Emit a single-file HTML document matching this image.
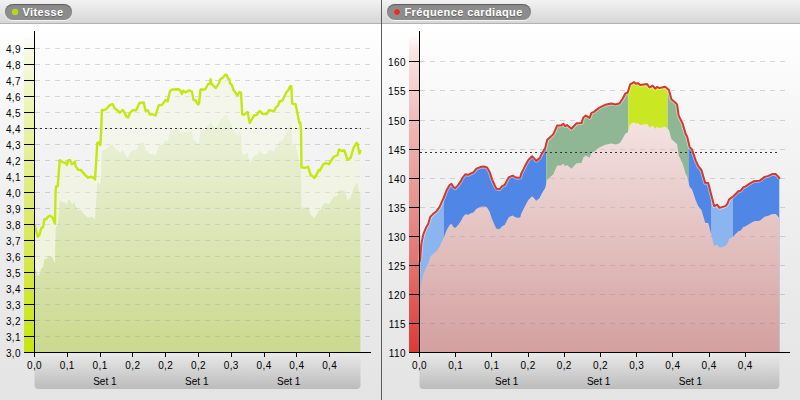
<!DOCTYPE html>
<html><head><meta charset="utf-8"><title>Charts</title>
<style>
html,body{margin:0;padding:0;}
body{width:800px;height:400px;overflow:hidden;position:relative;font-family:"Liberation Sans",sans-serif;background:#e4e4e4;}
.bg{position:absolute;left:0;top:24px;width:800px;height:376px;background:linear-gradient(#ffffff,#f4f4f4 30%,#ececec 60%,#e4e4e4 100%);}
.hdr{position:absolute;left:0;top:0;width:800px;height:23px;background:linear-gradient(#f2f2f2,#d6d6d6);border-bottom:1px solid #b3b3b3;}
.div{position:absolute;left:381px;top:0;width:1px;height:400px;background:#5a5a5a;}
.pill{position:absolute;top:4px;height:16px;border-radius:8px;background:#8c8c8c;box-shadow:inset 0 1px 1px rgba(0,0,0,.35),0 1px 0 rgba(255,255,255,.7);color:#fff;font-weight:bold;font-size:11px;line-height:16px;white-space:nowrap;}
.pill span{position:absolute;left:17.5px;top:0;letter-spacing:0.4px;text-shadow:0 1px 1px rgba(0,0,0,.3);}
.dot{position:absolute;left:7px;top:5px;width:6px;height:6px;border-radius:50%;box-shadow:0 0 1px rgba(255,255,255,.5);}
.yl{transform:translateY(0.6px);position:absolute;letter-spacing:0.4px;font-size:10px;line-height:12px;height:12px;text-align:right;color:#000;}
.xl{position:absolute;letter-spacing:0.4px;font-size:10px;line-height:12px;height:12px;width:30px;text-align:center;color:#000;white-space:nowrap;}
</style></head><body>
<div class="bg"></div>
<div class="hdr"></div>
<svg width="800" height="400" viewBox="0 0 800 400" style="position:absolute;left:0;top:0"><defs>
<linearGradient id="gl" x1="0" y1="0" x2="0" y2="1" gradientUnits="userSpaceOnUse" >
</linearGradient>
<linearGradient id="fillL" gradientUnits="userSpaceOnUse" x1="0" y1="100" x2="0" y2="352"><stop offset="0" stop-color="#eff3e1"/><stop offset="0.4" stop-color="#e1eac2"/><stop offset="1" stop-color="#cad98e"/></linearGradient>
<linearGradient id="fillR" gradientUnits="userSpaceOnUse" x1="0" y1="120" x2="0" y2="352"><stop offset="0" stop-color="#f3e3e2"/><stop offset="1" stop-color="#d3a09f"/></linearGradient>
<linearGradient id="barL" gradientUnits="userSpaceOnUse" x1="0" y1="35" x2="0" y2="352"><stop offset="0" stop-color="#f6f9e3" stop-opacity="0"/><stop offset="0.05" stop-color="#f6f9e3"/><stop offset="0.3" stop-color="#e9f2a2"/><stop offset="0.6" stop-color="#dbe966"/><stop offset="1" stop-color="#c7e60f"/></linearGradient>
<linearGradient id="barR" gradientUnits="userSpaceOnUse" x1="0" y1="35" x2="0" y2="352"><stop offset="0" stop-color="#f9e6e5" stop-opacity="0"/><stop offset="0.05" stop-color="#f9e6e5"/><stop offset="0.2" stop-color="#f2c8c6"/><stop offset="0.3" stop-color="#efb5b3"/><stop offset="0.7" stop-color="#e07873"/><stop offset="1" stop-color="#dc3a34"/></linearGradient>
<linearGradient id="xbox" x1="0" y1="0" x2="0" y2="1"><stop offset="0" stop-color="#e9e9e9"/><stop offset="1" stop-color="#bcbcbc"/></linearGradient>
<clipPath id="cz1"><rect x="34" y="0" width="22" height="400"/></clipPath>
<clipPath id="cz2"><rect x="56" y="0" width="40.5" height="400"/><rect x="301.2" y="0" width="70" height="400"/></clipPath>
<clipPath id="cz3"><rect x="96.5" y="0" width="204.7" height="400"/></clipPath>
<clipPath id="rlb"><rect x="419" y="0" width="24.7" height="400"/><rect x="711.3" y="0" width="21.7" height="400"/></clipPath>
<clipPath id="rb"><rect x="443.7" y="0" width="102.6" height="400"/><rect x="688.3" y="0" width="23" height="400"/><rect x="733" y="0" width="60" height="400"/></clipPath>
<clipPath id="rg"><rect x="546.3" y="0" width="82" height="400"/><rect x="667.4" y="0" width="20.9" height="400"/></clipPath>
<clipPath id="ry"><rect x="628.3" y="0" width="39.1" height="400"/></clipPath>
</defs><path d="M34.5,353 H360.5 V385 a4,4 0 0 1 -4,4 H38.5 a4,4 0 0 1 -4,-4 Z" fill="url(#xbox)"/><path d="M419.5,353 H779.4 V385 a4,4 0 0 1 -4,4 H423.5 a4,4 0 0 1 -4,-4 Z" fill="url(#xbox)"/><rect x="24" y="35" width="10" height="317.5" fill="url(#barL)"/><rect x="409" y="35" width="10" height="317.5" fill="url(#barR)"/><line x1="35" x2="370" y1="48.5" y2="48.5" stroke="#000" stroke-opacity="0.14" stroke-width="1.1" stroke-dasharray="5,5" /><line x1="35" x2="370" y1="64.5" y2="64.5" stroke="#000" stroke-opacity="0.14" stroke-width="1.1" stroke-dasharray="5,5" /><line x1="35" x2="370" y1="80.5" y2="80.5" stroke="#000" stroke-opacity="0.14" stroke-width="1.1" stroke-dasharray="5,5" /><line x1="35" x2="370" y1="96.5" y2="96.5" stroke="#000" stroke-opacity="0.14" stroke-width="1.1" stroke-dasharray="5,5" /><line x1="35" x2="370" y1="112.5" y2="112.5" stroke="#000" stroke-opacity="0.14" stroke-width="1.1" stroke-dasharray="5,5" /><line x1="35" x2="370" y1="128.5" y2="128.5" stroke="#000" stroke-opacity="0.14" stroke-width="1.1" stroke-dasharray="5,5" /><line x1="35" x2="370" y1="144.5" y2="144.5" stroke="#000" stroke-opacity="0.14" stroke-width="1.1" stroke-dasharray="5,5" /><line x1="35" x2="370" y1="160.5" y2="160.5" stroke="#000" stroke-opacity="0.14" stroke-width="1.1" stroke-dasharray="5,5" /><line x1="35" x2="370" y1="176.5" y2="176.5" stroke="#000" stroke-opacity="0.14" stroke-width="1.1" stroke-dasharray="5,5" /><line x1="35" x2="370" y1="192.5" y2="192.5" stroke="#000" stroke-opacity="0.14" stroke-width="1.1" stroke-dasharray="5,5" /><line x1="35" x2="370" y1="208.5" y2="208.5" stroke="#000" stroke-opacity="0.14" stroke-width="1.1" stroke-dasharray="5,5" /><line x1="35" x2="370" y1="224.5" y2="224.5" stroke="#000" stroke-opacity="0.14" stroke-width="1.1" stroke-dasharray="5,5" /><line x1="35" x2="370" y1="240.5" y2="240.5" stroke="#000" stroke-opacity="0.14" stroke-width="1.1" stroke-dasharray="5,5" /><line x1="35" x2="370" y1="256.5" y2="256.5" stroke="#000" stroke-opacity="0.14" stroke-width="1.1" stroke-dasharray="5,5" /><line x1="35" x2="370" y1="272.5" y2="272.5" stroke="#000" stroke-opacity="0.14" stroke-width="1.1" stroke-dasharray="5,5" /><line x1="35" x2="370" y1="288.5" y2="288.5" stroke="#000" stroke-opacity="0.14" stroke-width="1.1" stroke-dasharray="5,5" /><line x1="35" x2="370" y1="304.5" y2="304.5" stroke="#000" stroke-opacity="0.14" stroke-width="1.1" stroke-dasharray="5,5" /><line x1="35" x2="370" y1="320.5" y2="320.5" stroke="#000" stroke-opacity="0.14" stroke-width="1.1" stroke-dasharray="5,5" /><line x1="35" x2="370" y1="336.5" y2="336.5" stroke="#000" stroke-opacity="0.14" stroke-width="1.1" stroke-dasharray="5,5" /><line x1="420" x2="785" y1="323.50" y2="323.50" stroke="#000" stroke-opacity="0.14" stroke-width="1.1" stroke-dasharray="5,5" /><line x1="420" x2="785" y1="294.50" y2="294.50" stroke="#000" stroke-opacity="0.14" stroke-width="1.1" stroke-dasharray="5,5" /><line x1="420" x2="785" y1="265.50" y2="265.50" stroke="#000" stroke-opacity="0.14" stroke-width="1.1" stroke-dasharray="5,5" /><line x1="420" x2="785" y1="236.50" y2="236.50" stroke="#000" stroke-opacity="0.14" stroke-width="1.1" stroke-dasharray="5,5" /><line x1="420" x2="785" y1="207.50" y2="207.50" stroke="#000" stroke-opacity="0.14" stroke-width="1.1" stroke-dasharray="5,5" /><line x1="420" x2="785" y1="178.50" y2="178.50" stroke="#000" stroke-opacity="0.14" stroke-width="1.1" stroke-dasharray="5,5" /><line x1="420" x2="785" y1="149.50" y2="149.50" stroke="#000" stroke-opacity="0.14" stroke-width="1.1" stroke-dasharray="5,5" /><line x1="420" x2="785" y1="120.50" y2="120.50" stroke="#000" stroke-opacity="0.14" stroke-width="1.1" stroke-dasharray="5,5" /><line x1="420" x2="785" y1="90.50" y2="90.50" stroke="#000" stroke-opacity="0.14" stroke-width="1.1" stroke-dasharray="5,5" /><line x1="420" x2="785" y1="61.50" y2="61.50" stroke="#000" stroke-opacity="0.14" stroke-width="1.1" stroke-dasharray="5,5" /><clipPath id="lowL"><path d="M34.50,352.5 L34.50,226.10 L35.00,226.50 L37.75,236.75 L39.40,234.90 L41.25,228.25 L43.10,227.00 L44.40,219.25 L46.25,219.25 L48.10,216.75 L50.00,215.75 L52.50,217.40 L55.00,223.60 L55.60,190.50 L56.25,186.10 L57.75,186.10 L59.75,160.25 L63.10,162.40 L65.60,162.75 L66.90,164.90 L68.10,160.50 L70.00,159.90 L71.90,164.25 L73.30,163.50 L74.75,161.75 L75.60,166.10 L78.10,169.90 L80.60,169.90 L85.00,174.90 L88.10,177.75 L90.60,176.75 L93.10,177.40 L95.00,179.50 L96.25,160.50 L97.25,143.00 L98.50,142.40 L100.40,144.90 L101.20,130.50 L101.90,109.90 L103.75,110.25 L106.25,109.00 L110.00,104.90 L112.75,104.25 L114.40,108.00 L117.50,110.50 L120.00,112.75 L122.75,109.90 L124.40,112.40 L126.25,116.50 L128.10,117.40 L130.00,113.00 L132.50,110.25 L136.25,110.25 L139.40,103.00 L143.75,102.40 L145.60,111.10 L147.75,110.25 L150.00,114.50 L151.90,114.00 L155.60,115.50 L158.75,105.25 L161.90,104.90 L165.60,99.90 L167.70,101.30 L170.00,91.10 L172.50,89.50 L178.75,89.25 L180.25,90.50 L181.90,94.00 L183.10,90.75 L185.60,92.40 L188.75,90.25 L191.90,91.50 L193.50,99.90 L195.60,100.50 L198.10,104.50 L199.00,103.60 L200.60,89.50 L205.00,89.50 L208.10,84.25 L210.00,83.60 L210.60,79.25 L211.50,83.60 L215.60,88.00 L218.75,83.60 L220.25,79.25 L222.50,78.00 L225.60,74.50 L226.90,75.50 L228.10,78.60 L229.40,79.25 L230.00,83.60 L231.90,84.90 L233.50,90.10 L235.00,92.00 L237.40,95.50 L239.40,92.00 L241.00,92.75 L242.25,114.25 L243.75,114.90 L247.50,112.00 L249.75,123.00 L251.90,119.25 L254.40,115.25 L256.90,114.90 L259.40,111.10 L260.60,111.50 L262.50,114.00 L266.90,114.00 L268.75,110.25 L271.25,110.50 L273.75,111.50 L276.25,106.75 L277.75,106.10 L279.40,101.50 L282.50,100.50 L286.25,92.40 L288.10,90.50 L290.25,86.10 L291.25,86.10 L292.25,103.60 L295.60,104.25 L299.40,123.00 L300.25,122.40 L301.00,130.50 L301.50,167.40 L305.60,167.75 L308.10,166.75 L310.60,174.90 L312.50,176.10 L314.40,178.00 L316.90,174.00 L318.75,169.90 L320.00,170.50 L323.10,164.50 L325.60,163.00 L328.75,164.25 L333.75,156.75 L337.50,155.25 L339.00,149.50 L341.25,150.75 L344.40,150.50 L347.50,159.90 L350.60,157.75 L353.75,147.40 L356.50,143.00 L357.50,143.60 L359.40,153.60 L360.40,151.10 L360.40,352.5 Z"/></clipPath><path d="M34.50,226.10 L35.00,226.50 L37.75,236.75 L39.40,234.90 L41.25,228.25 L43.10,227.00 L44.40,219.25 L46.25,219.25 L48.10,216.75 L50.00,215.75 L52.50,217.40 L55.00,223.60 L55.60,190.50 L56.25,186.10 L57.75,186.10 L59.75,160.25 L63.10,162.40 L65.60,162.75 L66.90,164.90 L68.10,160.50 L70.00,159.90 L71.90,164.25 L73.30,163.50 L74.75,161.75 L75.60,166.10 L78.10,169.90 L80.60,169.90 L85.00,174.90 L88.10,177.75 L90.60,176.75 L93.10,177.40 L95.00,179.50 L96.25,160.50 L97.25,143.00 L98.50,142.40 L100.40,144.90 L101.20,130.50 L101.90,109.90 L103.75,110.25 L106.25,109.00 L110.00,104.90 L112.75,104.25 L114.40,108.00 L117.50,110.50 L120.00,112.75 L122.75,109.90 L124.40,112.40 L126.25,116.50 L128.10,117.40 L130.00,113.00 L132.50,110.25 L136.25,110.25 L139.40,103.00 L143.75,102.40 L145.60,111.10 L147.75,110.25 L150.00,114.50 L151.90,114.00 L155.60,115.50 L158.75,105.25 L161.90,104.90 L165.60,99.90 L167.70,101.30 L170.00,91.10 L172.50,89.50 L178.75,89.25 L180.25,90.50 L181.90,94.00 L183.10,90.75 L185.60,92.40 L188.75,90.25 L191.90,91.50 L193.50,99.90 L195.60,100.50 L198.10,104.50 L199.00,103.60 L200.60,89.50 L205.00,89.50 L208.10,84.25 L210.00,83.60 L210.60,79.25 L211.50,83.60 L215.60,88.00 L218.75,83.60 L220.25,79.25 L222.50,78.00 L225.60,74.50 L226.90,75.50 L228.10,78.60 L229.40,79.25 L230.00,83.60 L231.90,84.90 L233.50,90.10 L235.00,92.00 L237.40,95.50 L239.40,92.00 L241.00,92.75 L242.25,114.25 L243.75,114.90 L247.50,112.00 L249.75,123.00 L251.90,119.25 L254.40,115.25 L256.90,114.90 L259.40,111.10 L260.60,111.50 L262.50,114.00 L266.90,114.00 L268.75,110.25 L271.25,110.50 L273.75,111.50 L276.25,106.75 L277.75,106.10 L279.40,101.50 L282.50,100.50 L286.25,92.40 L288.10,90.50 L290.25,86.10 L291.25,86.10 L292.25,103.60 L295.60,104.25 L299.40,123.00 L300.25,122.40 L301.00,130.50 L301.50,167.40 L305.60,167.75 L308.10,166.75 L310.60,174.90 L312.50,176.10 L314.40,178.00 L316.90,174.00 L318.75,169.90 L320.00,170.50 L323.10,164.50 L325.60,163.00 L328.75,164.25 L333.75,156.75 L337.50,155.25 L339.00,149.50 L341.25,150.75 L344.40,150.50 L347.50,159.90 L350.60,157.75 L353.75,147.40 L356.50,143.00 L357.50,143.60 L359.40,153.60 L360.40,151.10 L360.40,192.10 L359.40,194.60 L357.50,184.60 L356.50,184.00 L353.75,188.40 L350.60,198.75 L347.50,200.90 L344.40,191.50 L341.25,191.75 L339.00,190.50 L337.50,196.25 L333.75,197.75 L328.75,205.25 L325.60,204.00 L323.10,205.50 L320.00,211.50 L318.75,210.90 L316.90,215.00 L314.40,219.00 L312.50,217.10 L310.60,215.90 L308.10,207.75 L305.60,208.75 L301.50,208.40 L301.00,171.50 L300.25,163.40 L299.40,164.00 L295.60,145.25 L292.25,144.60 L291.25,127.10 L290.25,127.10 L288.10,131.50 L286.25,133.40 L282.50,141.50 L279.40,142.50 L277.75,147.10 L276.25,147.75 L273.75,152.50 L271.25,151.50 L268.75,151.25 L266.90,155.00 L262.50,155.00 L260.60,152.50 L259.40,152.10 L256.90,155.90 L254.40,156.25 L251.90,160.25 L249.75,164.00 L247.50,153.00 L243.75,155.90 L242.25,155.25 L241.00,133.75 L239.40,133.00 L237.40,136.50 L235.00,133.00 L233.50,131.10 L231.90,125.90 L230.00,124.60 L229.40,120.25 L228.10,119.60 L226.90,116.50 L225.60,115.50 L222.50,119.00 L220.25,120.25 L218.75,124.60 L215.60,129.00 L211.50,124.60 L210.60,120.25 L210.00,124.60 L208.10,125.25 L205.00,130.50 L200.60,130.50 L199.00,144.60 L198.10,145.50 L195.60,141.50 L193.50,140.90 L191.90,132.50 L188.75,131.25 L185.60,133.40 L183.10,131.75 L181.90,135.00 L180.25,131.50 L178.75,130.25 L172.50,130.50 L170.00,132.10 L167.70,142.30 L165.60,140.90 L161.90,145.90 L158.75,146.25 L155.60,156.50 L151.90,155.00 L150.00,155.50 L147.75,151.25 L145.60,152.10 L143.75,143.40 L139.40,144.00 L136.25,151.25 L132.50,151.25 L130.00,154.00 L128.10,158.40 L126.25,157.50 L124.40,153.40 L122.75,150.90 L120.00,153.75 L117.50,151.50 L114.40,149.00 L112.75,145.25 L110.00,145.90 L106.25,150.00 L103.75,151.25 L101.90,150.90 L101.20,171.50 L100.40,185.90 L98.50,183.40 L97.25,184.00 L96.25,201.50 L95.00,220.50 L93.10,218.40 L90.60,217.75 L88.10,218.75 L85.00,215.90 L80.60,210.90 L78.10,210.90 L75.60,207.10 L74.75,202.75 L73.30,204.50 L71.90,205.25 L70.00,200.90 L68.10,201.50 L66.90,205.90 L65.60,203.75 L63.10,203.40 L59.75,201.25 L57.75,227.10 L56.25,227.10 L55.60,231.50 L55.00,264.60 L52.50,258.40 L50.00,256.75 L48.10,257.75 L46.25,260.25 L44.40,260.25 L43.10,268.00 L41.25,269.25 L39.40,275.90 L37.75,277.75 L35.00,267.50 L34.50,267.10 Z" fill="#f0f4df" clip-path="url(#cz1)"/><path d="M34.50,226.10 L35.00,226.50 L37.75,236.75 L39.40,234.90 L41.25,228.25 L43.10,227.00 L44.40,219.25 L46.25,219.25 L48.10,216.75 L50.00,215.75 L52.50,217.40 L55.00,223.60 L55.60,190.50 L56.25,186.10 L57.75,186.10 L59.75,160.25 L63.10,162.40 L65.60,162.75 L66.90,164.90 L68.10,160.50 L70.00,159.90 L71.90,164.25 L73.30,163.50 L74.75,161.75 L75.60,166.10 L78.10,169.90 L80.60,169.90 L85.00,174.90 L88.10,177.75 L90.60,176.75 L93.10,177.40 L95.00,179.50 L96.25,160.50 L97.25,143.00 L98.50,142.40 L100.40,144.90 L101.20,130.50 L101.90,109.90 L103.75,110.25 L106.25,109.00 L110.00,104.90 L112.75,104.25 L114.40,108.00 L117.50,110.50 L120.00,112.75 L122.75,109.90 L124.40,112.40 L126.25,116.50 L128.10,117.40 L130.00,113.00 L132.50,110.25 L136.25,110.25 L139.40,103.00 L143.75,102.40 L145.60,111.10 L147.75,110.25 L150.00,114.50 L151.90,114.00 L155.60,115.50 L158.75,105.25 L161.90,104.90 L165.60,99.90 L167.70,101.30 L170.00,91.10 L172.50,89.50 L178.75,89.25 L180.25,90.50 L181.90,94.00 L183.10,90.75 L185.60,92.40 L188.75,90.25 L191.90,91.50 L193.50,99.90 L195.60,100.50 L198.10,104.50 L199.00,103.60 L200.60,89.50 L205.00,89.50 L208.10,84.25 L210.00,83.60 L210.60,79.25 L211.50,83.60 L215.60,88.00 L218.75,83.60 L220.25,79.25 L222.50,78.00 L225.60,74.50 L226.90,75.50 L228.10,78.60 L229.40,79.25 L230.00,83.60 L231.90,84.90 L233.50,90.10 L235.00,92.00 L237.40,95.50 L239.40,92.00 L241.00,92.75 L242.25,114.25 L243.75,114.90 L247.50,112.00 L249.75,123.00 L251.90,119.25 L254.40,115.25 L256.90,114.90 L259.40,111.10 L260.60,111.50 L262.50,114.00 L266.90,114.00 L268.75,110.25 L271.25,110.50 L273.75,111.50 L276.25,106.75 L277.75,106.10 L279.40,101.50 L282.50,100.50 L286.25,92.40 L288.10,90.50 L290.25,86.10 L291.25,86.10 L292.25,103.60 L295.60,104.25 L299.40,123.00 L300.25,122.40 L301.00,130.50 L301.50,167.40 L305.60,167.75 L308.10,166.75 L310.60,174.90 L312.50,176.10 L314.40,178.00 L316.90,174.00 L318.75,169.90 L320.00,170.50 L323.10,164.50 L325.60,163.00 L328.75,164.25 L333.75,156.75 L337.50,155.25 L339.00,149.50 L341.25,150.75 L344.40,150.50 L347.50,159.90 L350.60,157.75 L353.75,147.40 L356.50,143.00 L357.50,143.60 L359.40,153.60 L360.40,151.10 L360.40,192.10 L359.40,194.60 L357.50,184.60 L356.50,184.00 L353.75,188.40 L350.60,198.75 L347.50,200.90 L344.40,191.50 L341.25,191.75 L339.00,190.50 L337.50,196.25 L333.75,197.75 L328.75,205.25 L325.60,204.00 L323.10,205.50 L320.00,211.50 L318.75,210.90 L316.90,215.00 L314.40,219.00 L312.50,217.10 L310.60,215.90 L308.10,207.75 L305.60,208.75 L301.50,208.40 L301.00,171.50 L300.25,163.40 L299.40,164.00 L295.60,145.25 L292.25,144.60 L291.25,127.10 L290.25,127.10 L288.10,131.50 L286.25,133.40 L282.50,141.50 L279.40,142.50 L277.75,147.10 L276.25,147.75 L273.75,152.50 L271.25,151.50 L268.75,151.25 L266.90,155.00 L262.50,155.00 L260.60,152.50 L259.40,152.10 L256.90,155.90 L254.40,156.25 L251.90,160.25 L249.75,164.00 L247.50,153.00 L243.75,155.90 L242.25,155.25 L241.00,133.75 L239.40,133.00 L237.40,136.50 L235.00,133.00 L233.50,131.10 L231.90,125.90 L230.00,124.60 L229.40,120.25 L228.10,119.60 L226.90,116.50 L225.60,115.50 L222.50,119.00 L220.25,120.25 L218.75,124.60 L215.60,129.00 L211.50,124.60 L210.60,120.25 L210.00,124.60 L208.10,125.25 L205.00,130.50 L200.60,130.50 L199.00,144.60 L198.10,145.50 L195.60,141.50 L193.50,140.90 L191.90,132.50 L188.75,131.25 L185.60,133.40 L183.10,131.75 L181.90,135.00 L180.25,131.50 L178.75,130.25 L172.50,130.50 L170.00,132.10 L167.70,142.30 L165.60,140.90 L161.90,145.90 L158.75,146.25 L155.60,156.50 L151.90,155.00 L150.00,155.50 L147.75,151.25 L145.60,152.10 L143.75,143.40 L139.40,144.00 L136.25,151.25 L132.50,151.25 L130.00,154.00 L128.10,158.40 L126.25,157.50 L124.40,153.40 L122.75,150.90 L120.00,153.75 L117.50,151.50 L114.40,149.00 L112.75,145.25 L110.00,145.90 L106.25,150.00 L103.75,151.25 L101.90,150.90 L101.20,171.50 L100.40,185.90 L98.50,183.40 L97.25,184.00 L96.25,201.50 L95.00,220.50 L93.10,218.40 L90.60,217.75 L88.10,218.75 L85.00,215.90 L80.60,210.90 L78.10,210.90 L75.60,207.10 L74.75,202.75 L73.30,204.50 L71.90,205.25 L70.00,200.90 L68.10,201.50 L66.90,205.90 L65.60,203.75 L63.10,203.40 L59.75,201.25 L57.75,227.10 L56.25,227.10 L55.60,231.50 L55.00,264.60 L52.50,258.40 L50.00,256.75 L48.10,257.75 L46.25,260.25 L44.40,260.25 L43.10,268.00 L41.25,269.25 L39.40,275.90 L37.75,277.75 L35.00,267.50 L34.50,267.10 Z" fill="#f1f4e4" clip-path="url(#cz2)"/><path d="M34.50,226.10 L35.00,226.50 L37.75,236.75 L39.40,234.90 L41.25,228.25 L43.10,227.00 L44.40,219.25 L46.25,219.25 L48.10,216.75 L50.00,215.75 L52.50,217.40 L55.00,223.60 L55.60,190.50 L56.25,186.10 L57.75,186.10 L59.75,160.25 L63.10,162.40 L65.60,162.75 L66.90,164.90 L68.10,160.50 L70.00,159.90 L71.90,164.25 L73.30,163.50 L74.75,161.75 L75.60,166.10 L78.10,169.90 L80.60,169.90 L85.00,174.90 L88.10,177.75 L90.60,176.75 L93.10,177.40 L95.00,179.50 L96.25,160.50 L97.25,143.00 L98.50,142.40 L100.40,144.90 L101.20,130.50 L101.90,109.90 L103.75,110.25 L106.25,109.00 L110.00,104.90 L112.75,104.25 L114.40,108.00 L117.50,110.50 L120.00,112.75 L122.75,109.90 L124.40,112.40 L126.25,116.50 L128.10,117.40 L130.00,113.00 L132.50,110.25 L136.25,110.25 L139.40,103.00 L143.75,102.40 L145.60,111.10 L147.75,110.25 L150.00,114.50 L151.90,114.00 L155.60,115.50 L158.75,105.25 L161.90,104.90 L165.60,99.90 L167.70,101.30 L170.00,91.10 L172.50,89.50 L178.75,89.25 L180.25,90.50 L181.90,94.00 L183.10,90.75 L185.60,92.40 L188.75,90.25 L191.90,91.50 L193.50,99.90 L195.60,100.50 L198.10,104.50 L199.00,103.60 L200.60,89.50 L205.00,89.50 L208.10,84.25 L210.00,83.60 L210.60,79.25 L211.50,83.60 L215.60,88.00 L218.75,83.60 L220.25,79.25 L222.50,78.00 L225.60,74.50 L226.90,75.50 L228.10,78.60 L229.40,79.25 L230.00,83.60 L231.90,84.90 L233.50,90.10 L235.00,92.00 L237.40,95.50 L239.40,92.00 L241.00,92.75 L242.25,114.25 L243.75,114.90 L247.50,112.00 L249.75,123.00 L251.90,119.25 L254.40,115.25 L256.90,114.90 L259.40,111.10 L260.60,111.50 L262.50,114.00 L266.90,114.00 L268.75,110.25 L271.25,110.50 L273.75,111.50 L276.25,106.75 L277.75,106.10 L279.40,101.50 L282.50,100.50 L286.25,92.40 L288.10,90.50 L290.25,86.10 L291.25,86.10 L292.25,103.60 L295.60,104.25 L299.40,123.00 L300.25,122.40 L301.00,130.50 L301.50,167.40 L305.60,167.75 L308.10,166.75 L310.60,174.90 L312.50,176.10 L314.40,178.00 L316.90,174.00 L318.75,169.90 L320.00,170.50 L323.10,164.50 L325.60,163.00 L328.75,164.25 L333.75,156.75 L337.50,155.25 L339.00,149.50 L341.25,150.75 L344.40,150.50 L347.50,159.90 L350.60,157.75 L353.75,147.40 L356.50,143.00 L357.50,143.60 L359.40,153.60 L360.40,151.10 L360.40,192.10 L359.40,194.60 L357.50,184.60 L356.50,184.00 L353.75,188.40 L350.60,198.75 L347.50,200.90 L344.40,191.50 L341.25,191.75 L339.00,190.50 L337.50,196.25 L333.75,197.75 L328.75,205.25 L325.60,204.00 L323.10,205.50 L320.00,211.50 L318.75,210.90 L316.90,215.00 L314.40,219.00 L312.50,217.10 L310.60,215.90 L308.10,207.75 L305.60,208.75 L301.50,208.40 L301.00,171.50 L300.25,163.40 L299.40,164.00 L295.60,145.25 L292.25,144.60 L291.25,127.10 L290.25,127.10 L288.10,131.50 L286.25,133.40 L282.50,141.50 L279.40,142.50 L277.75,147.10 L276.25,147.75 L273.75,152.50 L271.25,151.50 L268.75,151.25 L266.90,155.00 L262.50,155.00 L260.60,152.50 L259.40,152.10 L256.90,155.90 L254.40,156.25 L251.90,160.25 L249.75,164.00 L247.50,153.00 L243.75,155.90 L242.25,155.25 L241.00,133.75 L239.40,133.00 L237.40,136.50 L235.00,133.00 L233.50,131.10 L231.90,125.90 L230.00,124.60 L229.40,120.25 L228.10,119.60 L226.90,116.50 L225.60,115.50 L222.50,119.00 L220.25,120.25 L218.75,124.60 L215.60,129.00 L211.50,124.60 L210.60,120.25 L210.00,124.60 L208.10,125.25 L205.00,130.50 L200.60,130.50 L199.00,144.60 L198.10,145.50 L195.60,141.50 L193.50,140.90 L191.90,132.50 L188.75,131.25 L185.60,133.40 L183.10,131.75 L181.90,135.00 L180.25,131.50 L178.75,130.25 L172.50,130.50 L170.00,132.10 L167.70,142.30 L165.60,140.90 L161.90,145.90 L158.75,146.25 L155.60,156.50 L151.90,155.00 L150.00,155.50 L147.75,151.25 L145.60,152.10 L143.75,143.40 L139.40,144.00 L136.25,151.25 L132.50,151.25 L130.00,154.00 L128.10,158.40 L126.25,157.50 L124.40,153.40 L122.75,150.90 L120.00,153.75 L117.50,151.50 L114.40,149.00 L112.75,145.25 L110.00,145.90 L106.25,150.00 L103.75,151.25 L101.90,150.90 L101.20,171.50 L100.40,185.90 L98.50,183.40 L97.25,184.00 L96.25,201.50 L95.00,220.50 L93.10,218.40 L90.60,217.75 L88.10,218.75 L85.00,215.90 L80.60,210.90 L78.10,210.90 L75.60,207.10 L74.75,202.75 L73.30,204.50 L71.90,205.25 L70.00,200.90 L68.10,201.50 L66.90,205.90 L65.60,203.75 L63.10,203.40 L59.75,201.25 L57.75,227.10 L56.25,227.10 L55.60,231.50 L55.00,264.60 L52.50,258.40 L50.00,256.75 L48.10,257.75 L46.25,260.25 L44.40,260.25 L43.10,268.00 L41.25,269.25 L39.40,275.90 L37.75,277.75 L35.00,267.50 L34.50,267.10 Z" fill="#f4f6ec" clip-path="url(#cz3)"/><path d="M34.50,352.5 L34.50,266.10 L35.00,266.50 L37.75,276.75 L39.40,274.90 L41.25,268.25 L43.10,267.00 L44.40,259.25 L46.25,259.25 L48.10,256.75 L50.00,255.75 L52.50,257.40 L55.00,263.60 L55.60,230.50 L56.25,226.10 L57.75,226.10 L59.75,200.25 L63.10,202.40 L65.60,202.75 L66.90,204.90 L68.10,200.50 L70.00,199.90 L71.90,204.25 L73.30,203.50 L74.75,201.75 L75.60,206.10 L78.10,209.90 L80.60,209.90 L85.00,214.90 L88.10,217.75 L90.60,216.75 L93.10,217.40 L95.00,219.50 L96.25,200.50 L97.25,183.00 L98.50,182.40 L100.40,184.90 L101.20,170.50 L101.90,149.90 L103.75,150.25 L106.25,149.00 L110.00,144.90 L112.75,144.25 L114.40,148.00 L117.50,150.50 L120.00,152.75 L122.75,149.90 L124.40,152.40 L126.25,156.50 L128.10,157.40 L130.00,153.00 L132.50,150.25 L136.25,150.25 L139.40,143.00 L143.75,142.40 L145.60,151.10 L147.75,150.25 L150.00,154.50 L151.90,154.00 L155.60,155.50 L158.75,145.25 L161.90,144.90 L165.60,139.90 L167.70,141.30 L170.00,131.10 L172.50,129.50 L178.75,129.25 L180.25,130.50 L181.90,134.00 L183.10,130.75 L185.60,132.40 L188.75,130.25 L191.90,131.50 L193.50,139.90 L195.60,140.50 L198.10,144.50 L199.00,143.60 L200.60,129.50 L205.00,129.50 L208.10,124.25 L210.00,123.60 L210.60,119.25 L211.50,123.60 L215.60,128.00 L218.75,123.60 L220.25,119.25 L222.50,118.00 L225.60,114.50 L226.90,115.50 L228.10,118.60 L229.40,119.25 L230.00,123.60 L231.90,124.90 L233.50,130.10 L235.00,132.00 L237.40,135.50 L239.40,132.00 L241.00,132.75 L242.25,154.25 L243.75,154.90 L247.50,152.00 L249.75,163.00 L251.90,159.25 L254.40,155.25 L256.90,154.90 L259.40,151.10 L260.60,151.50 L262.50,154.00 L266.90,154.00 L268.75,150.25 L271.25,150.50 L273.75,151.50 L276.25,146.75 L277.75,146.10 L279.40,141.50 L282.50,140.50 L286.25,132.40 L288.10,130.50 L290.25,126.10 L291.25,126.10 L292.25,143.60 L295.60,144.25 L299.40,163.00 L300.25,162.40 L301.00,170.50 L301.50,207.40 L305.60,207.75 L308.10,206.75 L310.60,214.90 L312.50,216.10 L314.40,218.00 L316.90,214.00 L318.75,209.90 L320.00,210.50 L323.10,204.50 L325.60,203.00 L328.75,204.25 L333.75,196.75 L337.50,195.25 L339.00,189.50 L341.25,190.75 L344.40,190.50 L347.50,199.90 L350.60,197.75 L353.75,187.40 L356.50,183.00 L357.50,183.60 L359.40,193.60 L360.40,191.10 L360.40,352.5 Z" fill="url(#fillL)"/><clipPath id="lowR"><path d="M420.20,352.5 L420.20,300.60 L420.80,290.60 L421.45,283.10 L423.30,274.35 L425.80,268.10 L428.30,263.70 L430.20,256.85 L432.70,254.35 L436.45,251.20 L439.60,246.85 L443.30,238.70 L446.45,230.60 L449.60,225.00 L451.45,223.70 L453.30,226.85 L455.20,228.10 L457.70,225.60 L460.80,221.20 L462.70,217.50 L465.20,214.35 L468.30,214.80 L470.80,213.35 L473.30,212.50 L476.45,208.70 L480.80,206.85 L484.60,206.60 L487.10,207.50 L489.60,211.85 L492.10,219.35 L494.60,225.00 L496.45,228.70 L499.60,229.10 L502.10,226.20 L504.60,225.00 L507.10,220.35 L508.95,217.10 L512.70,215.60 L515.80,217.50 L518.30,217.85 L520.20,217.50 L521.20,213.70 L524.60,206.85 L528.30,200.00 L532.10,196.20 L533.95,198.10 L536.20,200.85 L539.60,198.10 L542.10,193.10 L545.20,188.10 L547.10,180.00 L553.30,174.35 L557.10,165.60 L560.80,165.60 L563.30,163.70 L565.20,166.20 L567.10,165.00 L571.45,168.70 L576.45,163.35 L581.45,163.10 L583.30,157.50 L585.80,155.60 L589.60,157.85 L591.45,152.85 L593.95,151.85 L598.95,147.85 L605.20,144.80 L611.45,143.50 L615.80,144.50 L619.60,143.20 L622.70,138.50 L625.20,133.70 L627.70,132.50 L630.20,124.35 L633.95,122.10 L635.80,123.70 L637.70,123.10 L640.20,125.00 L647.10,124.10 L649.60,127.50 L652.70,125.60 L655.20,128.70 L657.10,126.85 L659.60,128.10 L665.20,126.85 L668.95,130.00 L671.45,139.35 L675.20,142.50 L677.10,144.35 L678.70,155.60 L682.70,163.70 L685.80,174.35 L687.10,176.20 L689.60,186.85 L692.10,189.60 L695.80,200.60 L698.30,206.20 L701.45,210.00 L705.20,222.85 L708.30,223.10 L711.45,235.60 L714.20,246.20 L717.10,244.60 L719.60,247.85 L722.70,246.85 L725.80,245.85 L727.70,243.10 L728.95,239.60 L733.30,236.20 L738.30,231.20 L740.80,230.60 L743.30,227.10 L745.20,226.60 L749.60,223.70 L753.95,221.20 L759.60,220.85 L764.60,216.85 L768.30,215.85 L772.10,214.10 L775.80,214.10 L778.95,217.50 L779.30,217.90 L779.30,352.5 Z"/></clipPath><path d="M420.20,352.5 L420.20,260.60 L420.80,250.60 L421.45,243.10 L423.30,234.35 L425.80,228.10 L428.30,223.70 L430.20,216.85 L432.70,214.35 L436.45,211.20 L439.60,206.85 L443.30,198.70 L446.45,190.60 L449.60,185.00 L451.45,183.70 L453.30,186.85 L455.20,188.10 L457.70,185.60 L460.80,181.20 L462.70,177.50 L465.20,174.35 L468.30,174.80 L470.80,173.35 L473.30,172.50 L476.45,168.70 L480.80,166.85 L484.60,166.60 L487.10,167.50 L489.60,171.85 L492.10,179.35 L494.60,185.00 L496.45,188.70 L499.60,189.10 L502.10,186.20 L504.60,185.00 L507.10,180.35 L508.95,177.10 L512.70,175.60 L515.80,177.50 L518.30,177.85 L520.20,177.50 L521.20,173.70 L524.60,166.85 L528.30,160.00 L532.10,156.20 L533.95,158.10 L536.20,160.85 L539.60,158.10 L542.10,153.10 L545.20,148.10 L547.10,140.00 L553.30,134.35 L557.10,125.60 L560.80,125.60 L563.30,123.70 L565.20,126.20 L567.10,125.00 L571.45,128.70 L576.45,123.35 L581.45,123.10 L583.30,117.50 L585.80,115.60 L589.60,117.85 L591.45,112.85 L593.95,111.85 L598.95,107.85 L605.20,104.80 L611.45,103.50 L615.80,104.50 L619.60,103.20 L622.70,98.50 L625.20,93.70 L627.70,92.50 L630.20,84.35 L633.95,82.10 L635.80,83.70 L637.70,83.10 L640.20,85.00 L647.10,84.10 L649.60,87.50 L652.70,85.60 L655.20,88.70 L657.10,86.85 L659.60,88.10 L665.20,86.85 L668.95,90.00 L671.45,99.35 L675.20,102.50 L677.10,104.35 L678.70,115.60 L682.70,123.70 L685.80,134.35 L687.10,136.20 L689.60,146.85 L692.10,149.60 L695.80,160.60 L698.30,166.20 L701.45,170.00 L705.20,182.85 L708.30,183.10 L711.45,195.60 L714.20,206.20 L717.10,204.60 L719.60,207.85 L722.70,206.85 L725.80,205.85 L727.70,203.10 L728.95,199.60 L733.30,196.20 L738.30,191.20 L740.80,190.60 L743.30,187.10 L745.20,186.60 L749.60,183.70 L753.95,181.20 L759.60,180.85 L764.60,176.85 L768.30,175.85 L772.10,174.10 L775.80,174.10 L778.95,177.50 L779.30,177.90 L779.30,352.5 Z" fill="#8ab5ee" clip-path="url(#rlb)"/><path d="M420.20,352.5 L420.20,260.60 L420.80,250.60 L421.45,243.10 L423.30,234.35 L425.80,228.10 L428.30,223.70 L430.20,216.85 L432.70,214.35 L436.45,211.20 L439.60,206.85 L443.30,198.70 L446.45,190.60 L449.60,185.00 L451.45,183.70 L453.30,186.85 L455.20,188.10 L457.70,185.60 L460.80,181.20 L462.70,177.50 L465.20,174.35 L468.30,174.80 L470.80,173.35 L473.30,172.50 L476.45,168.70 L480.80,166.85 L484.60,166.60 L487.10,167.50 L489.60,171.85 L492.10,179.35 L494.60,185.00 L496.45,188.70 L499.60,189.10 L502.10,186.20 L504.60,185.00 L507.10,180.35 L508.95,177.10 L512.70,175.60 L515.80,177.50 L518.30,177.85 L520.20,177.50 L521.20,173.70 L524.60,166.85 L528.30,160.00 L532.10,156.20 L533.95,158.10 L536.20,160.85 L539.60,158.10 L542.10,153.10 L545.20,148.10 L547.10,140.00 L553.30,134.35 L557.10,125.60 L560.80,125.60 L563.30,123.70 L565.20,126.20 L567.10,125.00 L571.45,128.70 L576.45,123.35 L581.45,123.10 L583.30,117.50 L585.80,115.60 L589.60,117.85 L591.45,112.85 L593.95,111.85 L598.95,107.85 L605.20,104.80 L611.45,103.50 L615.80,104.50 L619.60,103.20 L622.70,98.50 L625.20,93.70 L627.70,92.50 L630.20,84.35 L633.95,82.10 L635.80,83.70 L637.70,83.10 L640.20,85.00 L647.10,84.10 L649.60,87.50 L652.70,85.60 L655.20,88.70 L657.10,86.85 L659.60,88.10 L665.20,86.85 L668.95,90.00 L671.45,99.35 L675.20,102.50 L677.10,104.35 L678.70,115.60 L682.70,123.70 L685.80,134.35 L687.10,136.20 L689.60,146.85 L692.10,149.60 L695.80,160.60 L698.30,166.20 L701.45,170.00 L705.20,182.85 L708.30,183.10 L711.45,195.60 L714.20,206.20 L717.10,204.60 L719.60,207.85 L722.70,206.85 L725.80,205.85 L727.70,203.10 L728.95,199.60 L733.30,196.20 L738.30,191.20 L740.80,190.60 L743.30,187.10 L745.20,186.60 L749.60,183.70 L753.95,181.20 L759.60,180.85 L764.60,176.85 L768.30,175.85 L772.10,174.10 L775.80,174.10 L778.95,177.50 L779.30,177.90 L779.30,352.5 Z" fill="#5086e6" clip-path="url(#rb)"/><path d="M420.20,352.5 L420.20,260.60 L420.80,250.60 L421.45,243.10 L423.30,234.35 L425.80,228.10 L428.30,223.70 L430.20,216.85 L432.70,214.35 L436.45,211.20 L439.60,206.85 L443.30,198.70 L446.45,190.60 L449.60,185.00 L451.45,183.70 L453.30,186.85 L455.20,188.10 L457.70,185.60 L460.80,181.20 L462.70,177.50 L465.20,174.35 L468.30,174.80 L470.80,173.35 L473.30,172.50 L476.45,168.70 L480.80,166.85 L484.60,166.60 L487.10,167.50 L489.60,171.85 L492.10,179.35 L494.60,185.00 L496.45,188.70 L499.60,189.10 L502.10,186.20 L504.60,185.00 L507.10,180.35 L508.95,177.10 L512.70,175.60 L515.80,177.50 L518.30,177.85 L520.20,177.50 L521.20,173.70 L524.60,166.85 L528.30,160.00 L532.10,156.20 L533.95,158.10 L536.20,160.85 L539.60,158.10 L542.10,153.10 L545.20,148.10 L547.10,140.00 L553.30,134.35 L557.10,125.60 L560.80,125.60 L563.30,123.70 L565.20,126.20 L567.10,125.00 L571.45,128.70 L576.45,123.35 L581.45,123.10 L583.30,117.50 L585.80,115.60 L589.60,117.85 L591.45,112.85 L593.95,111.85 L598.95,107.85 L605.20,104.80 L611.45,103.50 L615.80,104.50 L619.60,103.20 L622.70,98.50 L625.20,93.70 L627.70,92.50 L630.20,84.35 L633.95,82.10 L635.80,83.70 L637.70,83.10 L640.20,85.00 L647.10,84.10 L649.60,87.50 L652.70,85.60 L655.20,88.70 L657.10,86.85 L659.60,88.10 L665.20,86.85 L668.95,90.00 L671.45,99.35 L675.20,102.50 L677.10,104.35 L678.70,115.60 L682.70,123.70 L685.80,134.35 L687.10,136.20 L689.60,146.85 L692.10,149.60 L695.80,160.60 L698.30,166.20 L701.45,170.00 L705.20,182.85 L708.30,183.10 L711.45,195.60 L714.20,206.20 L717.10,204.60 L719.60,207.85 L722.70,206.85 L725.80,205.85 L727.70,203.10 L728.95,199.60 L733.30,196.20 L738.30,191.20 L740.80,190.60 L743.30,187.10 L745.20,186.60 L749.60,183.70 L753.95,181.20 L759.60,180.85 L764.60,176.85 L768.30,175.85 L772.10,174.10 L775.80,174.10 L778.95,177.50 L779.30,177.90 L779.30,352.5 Z" fill="#8fb795" clip-path="url(#rg)"/><path d="M420.20,352.5 L420.20,260.60 L420.80,250.60 L421.45,243.10 L423.30,234.35 L425.80,228.10 L428.30,223.70 L430.20,216.85 L432.70,214.35 L436.45,211.20 L439.60,206.85 L443.30,198.70 L446.45,190.60 L449.60,185.00 L451.45,183.70 L453.30,186.85 L455.20,188.10 L457.70,185.60 L460.80,181.20 L462.70,177.50 L465.20,174.35 L468.30,174.80 L470.80,173.35 L473.30,172.50 L476.45,168.70 L480.80,166.85 L484.60,166.60 L487.10,167.50 L489.60,171.85 L492.10,179.35 L494.60,185.00 L496.45,188.70 L499.60,189.10 L502.10,186.20 L504.60,185.00 L507.10,180.35 L508.95,177.10 L512.70,175.60 L515.80,177.50 L518.30,177.85 L520.20,177.50 L521.20,173.70 L524.60,166.85 L528.30,160.00 L532.10,156.20 L533.95,158.10 L536.20,160.85 L539.60,158.10 L542.10,153.10 L545.20,148.10 L547.10,140.00 L553.30,134.35 L557.10,125.60 L560.80,125.60 L563.30,123.70 L565.20,126.20 L567.10,125.00 L571.45,128.70 L576.45,123.35 L581.45,123.10 L583.30,117.50 L585.80,115.60 L589.60,117.85 L591.45,112.85 L593.95,111.85 L598.95,107.85 L605.20,104.80 L611.45,103.50 L615.80,104.50 L619.60,103.20 L622.70,98.50 L625.20,93.70 L627.70,92.50 L630.20,84.35 L633.95,82.10 L635.80,83.70 L637.70,83.10 L640.20,85.00 L647.10,84.10 L649.60,87.50 L652.70,85.60 L655.20,88.70 L657.10,86.85 L659.60,88.10 L665.20,86.85 L668.95,90.00 L671.45,99.35 L675.20,102.50 L677.10,104.35 L678.70,115.60 L682.70,123.70 L685.80,134.35 L687.10,136.20 L689.60,146.85 L692.10,149.60 L695.80,160.60 L698.30,166.20 L701.45,170.00 L705.20,182.85 L708.30,183.10 L711.45,195.60 L714.20,206.20 L717.10,204.60 L719.60,207.85 L722.70,206.85 L725.80,205.85 L727.70,203.10 L728.95,199.60 L733.30,196.20 L738.30,191.20 L740.80,190.60 L743.30,187.10 L745.20,186.60 L749.60,183.70 L753.95,181.20 L759.60,180.85 L764.60,176.85 L768.30,175.85 L772.10,174.10 L775.80,174.10 L778.95,177.50 L779.30,177.90 L779.30,352.5 Z" fill="#c9e823" clip-path="url(#ry)"/><path d="M420.20,352.5 L420.20,300.60 L420.80,290.60 L421.45,283.10 L423.30,274.35 L425.80,268.10 L428.30,263.70 L430.20,256.85 L432.70,254.35 L436.45,251.20 L439.60,246.85 L443.30,238.70 L446.45,230.60 L449.60,225.00 L451.45,223.70 L453.30,226.85 L455.20,228.10 L457.70,225.60 L460.80,221.20 L462.70,217.50 L465.20,214.35 L468.30,214.80 L470.80,213.35 L473.30,212.50 L476.45,208.70 L480.80,206.85 L484.60,206.60 L487.10,207.50 L489.60,211.85 L492.10,219.35 L494.60,225.00 L496.45,228.70 L499.60,229.10 L502.10,226.20 L504.60,225.00 L507.10,220.35 L508.95,217.10 L512.70,215.60 L515.80,217.50 L518.30,217.85 L520.20,217.50 L521.20,213.70 L524.60,206.85 L528.30,200.00 L532.10,196.20 L533.95,198.10 L536.20,200.85 L539.60,198.10 L542.10,193.10 L545.20,188.10 L547.10,180.00 L553.30,174.35 L557.10,165.60 L560.80,165.60 L563.30,163.70 L565.20,166.20 L567.10,165.00 L571.45,168.70 L576.45,163.35 L581.45,163.10 L583.30,157.50 L585.80,155.60 L589.60,157.85 L591.45,152.85 L593.95,151.85 L598.95,147.85 L605.20,144.80 L611.45,143.50 L615.80,144.50 L619.60,143.20 L622.70,138.50 L625.20,133.70 L627.70,132.50 L630.20,124.35 L633.95,122.10 L635.80,123.70 L637.70,123.10 L640.20,125.00 L647.10,124.10 L649.60,127.50 L652.70,125.60 L655.20,128.70 L657.10,126.85 L659.60,128.10 L665.20,126.85 L668.95,130.00 L671.45,139.35 L675.20,142.50 L677.10,144.35 L678.70,155.60 L682.70,163.70 L685.80,174.35 L687.10,176.20 L689.60,186.85 L692.10,189.60 L695.80,200.60 L698.30,206.20 L701.45,210.00 L705.20,222.85 L708.30,223.10 L711.45,235.60 L714.20,246.20 L717.10,244.60 L719.60,247.85 L722.70,246.85 L725.80,245.85 L727.70,243.10 L728.95,239.60 L733.30,236.20 L738.30,231.20 L740.80,230.60 L743.30,227.10 L745.20,226.60 L749.60,223.70 L753.95,221.20 L759.60,220.85 L764.60,216.85 L768.30,215.85 L772.10,214.10 L775.80,214.10 L778.95,217.50 L779.30,217.90 L779.30,352.5 Z" fill="url(#fillR)"/><g clip-path="url(#lowL)"><line x1="35" x2="370" y1="48.5" y2="48.5" stroke="#000" stroke-opacity="0.08" stroke-width="1.1" stroke-dasharray="5,5" /><line x1="35" x2="370" y1="64.5" y2="64.5" stroke="#000" stroke-opacity="0.08" stroke-width="1.1" stroke-dasharray="5,5" /><line x1="35" x2="370" y1="80.5" y2="80.5" stroke="#000" stroke-opacity="0.08" stroke-width="1.1" stroke-dasharray="5,5" /><line x1="35" x2="370" y1="96.5" y2="96.5" stroke="#000" stroke-opacity="0.08" stroke-width="1.1" stroke-dasharray="5,5" /><line x1="35" x2="370" y1="112.5" y2="112.5" stroke="#000" stroke-opacity="0.08" stroke-width="1.1" stroke-dasharray="5,5" /><line x1="35" x2="370" y1="128.5" y2="128.5" stroke="#000" stroke-opacity="0.08" stroke-width="1.1" stroke-dasharray="5,5" /><line x1="35" x2="370" y1="144.5" y2="144.5" stroke="#000" stroke-opacity="0.08" stroke-width="1.1" stroke-dasharray="5,5" /><line x1="35" x2="370" y1="160.5" y2="160.5" stroke="#000" stroke-opacity="0.08" stroke-width="1.1" stroke-dasharray="5,5" /><line x1="35" x2="370" y1="176.5" y2="176.5" stroke="#000" stroke-opacity="0.08" stroke-width="1.1" stroke-dasharray="5,5" /><line x1="35" x2="370" y1="192.5" y2="192.5" stroke="#000" stroke-opacity="0.08" stroke-width="1.1" stroke-dasharray="5,5" /><line x1="35" x2="370" y1="208.5" y2="208.5" stroke="#000" stroke-opacity="0.08" stroke-width="1.1" stroke-dasharray="5,5" /><line x1="35" x2="370" y1="224.5" y2="224.5" stroke="#000" stroke-opacity="0.08" stroke-width="1.1" stroke-dasharray="5,5" /><line x1="35" x2="370" y1="240.5" y2="240.5" stroke="#000" stroke-opacity="0.08" stroke-width="1.1" stroke-dasharray="5,5" /><line x1="35" x2="370" y1="256.5" y2="256.5" stroke="#000" stroke-opacity="0.08" stroke-width="1.1" stroke-dasharray="5,5" /><line x1="35" x2="370" y1="272.5" y2="272.5" stroke="#000" stroke-opacity="0.08" stroke-width="1.1" stroke-dasharray="5,5" /><line x1="35" x2="370" y1="288.5" y2="288.5" stroke="#000" stroke-opacity="0.08" stroke-width="1.1" stroke-dasharray="5,5" /><line x1="35" x2="370" y1="304.5" y2="304.5" stroke="#000" stroke-opacity="0.08" stroke-width="1.1" stroke-dasharray="5,5" /><line x1="35" x2="370" y1="320.5" y2="320.5" stroke="#000" stroke-opacity="0.08" stroke-width="1.1" stroke-dasharray="5,5" /><line x1="35" x2="370" y1="336.5" y2="336.5" stroke="#000" stroke-opacity="0.08" stroke-width="1.1" stroke-dasharray="5,5" /></g><g clip-path="url(#lowR)"><line x1="420" x2="785" y1="323.50" y2="323.50" stroke="#000" stroke-opacity="0.08" stroke-width="1.1" stroke-dasharray="5,5" /><line x1="420" x2="785" y1="294.50" y2="294.50" stroke="#000" stroke-opacity="0.08" stroke-width="1.1" stroke-dasharray="5,5" /><line x1="420" x2="785" y1="265.50" y2="265.50" stroke="#000" stroke-opacity="0.08" stroke-width="1.1" stroke-dasharray="5,5" /><line x1="420" x2="785" y1="236.50" y2="236.50" stroke="#000" stroke-opacity="0.08" stroke-width="1.1" stroke-dasharray="5,5" /><line x1="420" x2="785" y1="207.50" y2="207.50" stroke="#000" stroke-opacity="0.08" stroke-width="1.1" stroke-dasharray="5,5" /><line x1="420" x2="785" y1="178.50" y2="178.50" stroke="#000" stroke-opacity="0.08" stroke-width="1.1" stroke-dasharray="5,5" /><line x1="420" x2="785" y1="149.50" y2="149.50" stroke="#000" stroke-opacity="0.08" stroke-width="1.1" stroke-dasharray="5,5" /><line x1="420" x2="785" y1="120.50" y2="120.50" stroke="#000" stroke-opacity="0.08" stroke-width="1.1" stroke-dasharray="5,5" /><line x1="420" x2="785" y1="90.50" y2="90.50" stroke="#000" stroke-opacity="0.08" stroke-width="1.1" stroke-dasharray="5,5" /><line x1="420" x2="785" y1="61.50" y2="61.50" stroke="#000" stroke-opacity="0.08" stroke-width="1.1" stroke-dasharray="5,5" /></g><line x1="35" x2="361" y1="128.5" y2="128.5" stroke="#333" stroke-width="1" stroke-dasharray="2,3"/><line x1="420" x2="777" y1="152.5" y2="152.5" stroke="#333" stroke-width="1" stroke-dasharray="2,3"/><polyline points="34.50,226.10 35.00,226.50 37.75,236.75 39.40,234.90 41.25,228.25 43.10,227.00 44.40,219.25 46.25,219.25 48.10,216.75 50.00,215.75 52.50,217.40 55.00,223.60 55.60,190.50 56.25,186.10 57.75,186.10 59.75,160.25 63.10,162.40 65.60,162.75 66.90,164.90 68.10,160.50 70.00,159.90 71.90,164.25 73.30,163.50 74.75,161.75 75.60,166.10 78.10,169.90 80.60,169.90 85.00,174.90 88.10,177.75 90.60,176.75 93.10,177.40 95.00,179.50 96.25,160.50 97.25,143.00 98.50,142.40 100.40,144.90 101.20,130.50 101.90,109.90 103.75,110.25 106.25,109.00 110.00,104.90 112.75,104.25 114.40,108.00 117.50,110.50 120.00,112.75 122.75,109.90 124.40,112.40 126.25,116.50 128.10,117.40 130.00,113.00 132.50,110.25 136.25,110.25 139.40,103.00 143.75,102.40 145.60,111.10 147.75,110.25 150.00,114.50 151.90,114.00 155.60,115.50 158.75,105.25 161.90,104.90 165.60,99.90 167.70,101.30 170.00,91.10 172.50,89.50 178.75,89.25 180.25,90.50 181.90,94.00 183.10,90.75 185.60,92.40 188.75,90.25 191.90,91.50 193.50,99.90 195.60,100.50 198.10,104.50 199.00,103.60 200.60,89.50 205.00,89.50 208.10,84.25 210.00,83.60 210.60,79.25 211.50,83.60 215.60,88.00 218.75,83.60 220.25,79.25 222.50,78.00 225.60,74.50 226.90,75.50 228.10,78.60 229.40,79.25 230.00,83.60 231.90,84.90 233.50,90.10 235.00,92.00 237.40,95.50 239.40,92.00 241.00,92.75 242.25,114.25 243.75,114.90 247.50,112.00 249.75,123.00 251.90,119.25 254.40,115.25 256.90,114.90 259.40,111.10 260.60,111.50 262.50,114.00 266.90,114.00 268.75,110.25 271.25,110.50 273.75,111.50 276.25,106.75 277.75,106.10 279.40,101.50 282.50,100.50 286.25,92.40 288.10,90.50 290.25,86.10 291.25,86.10 292.25,103.60 295.60,104.25 299.40,123.00 300.25,122.40 301.00,130.50 301.50,167.40 305.60,167.75 308.10,166.75 310.60,174.90 312.50,176.10 314.40,178.00 316.90,174.00 318.75,169.90 320.00,170.50 323.10,164.50 325.60,163.00 328.75,164.25 333.75,156.75 337.50,155.25 339.00,149.50 341.25,150.75 344.40,150.50 347.50,159.90 350.60,157.75 353.75,147.40 356.50,143.00 357.50,143.60 359.40,153.60 360.40,151.10" fill="none" stroke="#c4e70e" stroke-width="2.4" stroke-linejoin="round" stroke-linecap="round"/><polyline points="420.20,260.60 420.80,250.60 421.45,243.10 423.30,234.35 425.80,228.10 428.30,223.70 430.20,216.85 432.70,214.35 436.45,211.20 439.60,206.85 443.30,198.70 446.45,190.60 449.60,185.00 451.45,183.70 453.30,186.85 455.20,188.10 457.70,185.60 460.80,181.20 462.70,177.50 465.20,174.35 468.30,174.80 470.80,173.35 473.30,172.50 476.45,168.70 480.80,166.85 484.60,166.60 487.10,167.50 489.60,171.85 492.10,179.35 494.60,185.00 496.45,188.70 499.60,189.10 502.10,186.20 504.60,185.00 507.10,180.35 508.95,177.10 512.70,175.60 515.80,177.50 518.30,177.85 520.20,177.50 521.20,173.70 524.60,166.85 528.30,160.00 532.10,156.20 533.95,158.10 536.20,160.85 539.60,158.10 542.10,153.10 545.20,148.10 547.10,140.00 553.30,134.35 557.10,125.60 560.80,125.60 563.30,123.70 565.20,126.20 567.10,125.00 571.45,128.70 576.45,123.35 581.45,123.10 583.30,117.50 585.80,115.60 589.60,117.85 591.45,112.85 593.95,111.85 598.95,107.85 605.20,104.80 611.45,103.50 615.80,104.50 619.60,103.20 622.70,98.50 625.20,93.70 627.70,92.50 630.20,84.35 633.95,82.10 635.80,83.70 637.70,83.10 640.20,85.00 647.10,84.10 649.60,87.50 652.70,85.60 655.20,88.70 657.10,86.85 659.60,88.10 665.20,86.85 668.95,90.00 671.45,99.35 675.20,102.50 677.10,104.35 678.70,115.60 682.70,123.70 685.80,134.35 687.10,136.20 689.60,146.85 692.10,149.60 695.80,160.60 698.30,166.20 701.45,170.00 705.20,182.85 708.30,183.10 711.45,195.60 714.20,206.20 717.10,204.60 719.60,207.85 722.70,206.85 725.80,205.85 727.70,203.10 728.95,199.60 733.30,196.20 738.30,191.20 740.80,190.60 743.30,187.10 745.20,186.60 749.60,183.70 753.95,181.20 759.60,180.85 764.60,176.85 768.30,175.85 772.10,174.10 775.80,174.10 778.95,177.50 779.30,177.90" fill="none" stroke="#fff" stroke-opacity="0.45" stroke-width="3.8" stroke-linejoin="round"/><polyline points="420.20,260.60 420.80,250.60 421.45,243.10 423.30,234.35 425.80,228.10 428.30,223.70 430.20,216.85 432.70,214.35 436.45,211.20 439.60,206.85 443.30,198.70 446.45,190.60 449.60,185.00 451.45,183.70 453.30,186.85 455.20,188.10 457.70,185.60 460.80,181.20 462.70,177.50 465.20,174.35 468.30,174.80 470.80,173.35 473.30,172.50 476.45,168.70 480.80,166.85 484.60,166.60 487.10,167.50 489.60,171.85 492.10,179.35 494.60,185.00 496.45,188.70 499.60,189.10 502.10,186.20 504.60,185.00 507.10,180.35 508.95,177.10 512.70,175.60 515.80,177.50 518.30,177.85 520.20,177.50 521.20,173.70 524.60,166.85 528.30,160.00 532.10,156.20 533.95,158.10 536.20,160.85 539.60,158.10 542.10,153.10 545.20,148.10 547.10,140.00 553.30,134.35 557.10,125.60 560.80,125.60 563.30,123.70 565.20,126.20 567.10,125.00 571.45,128.70 576.45,123.35 581.45,123.10 583.30,117.50 585.80,115.60 589.60,117.85 591.45,112.85 593.95,111.85 598.95,107.85 605.20,104.80 611.45,103.50 615.80,104.50 619.60,103.20 622.70,98.50 625.20,93.70 627.70,92.50 630.20,84.35 633.95,82.10 635.80,83.70 637.70,83.10 640.20,85.00 647.10,84.10 649.60,87.50 652.70,85.60 655.20,88.70 657.10,86.85 659.60,88.10 665.20,86.85 668.95,90.00 671.45,99.35 675.20,102.50 677.10,104.35 678.70,115.60 682.70,123.70 685.80,134.35 687.10,136.20 689.60,146.85 692.10,149.60 695.80,160.60 698.30,166.20 701.45,170.00 705.20,182.85 708.30,183.10 711.45,195.60 714.20,206.20 717.10,204.60 719.60,207.85 722.70,206.85 725.80,205.85 727.70,203.10 728.95,199.60 733.30,196.20 738.30,191.20 740.80,190.60 743.30,187.10 745.20,186.60 749.60,183.70 753.95,181.20 759.60,180.85 764.60,176.85 768.30,175.85 772.10,174.10 775.80,174.10 778.95,177.50 779.30,177.90" fill="none" stroke="#d8382b" stroke-width="2.0" stroke-linejoin="round" stroke-linecap="round"/><g stroke="#000" stroke-width="1" shape-rendering="crispEdges"><line x1="34.5" x2="34.5" y1="31" y2="357"/><line x1="24" x2="371" y1="352.5" y2="352.5"/><line x1="419.5" x2="419.5" y1="31" y2="357"/><line x1="409" x2="790" y1="352.5" y2="352.5"/><line x1="24" x2="34" y1="48.5" y2="48.5"/><line x1="24" x2="34" y1="64.5" y2="64.5"/><line x1="24" x2="34" y1="80.5" y2="80.5"/><line x1="24" x2="34" y1="96.5" y2="96.5"/><line x1="24" x2="34" y1="112.5" y2="112.5"/><line x1="24" x2="34" y1="128.5" y2="128.5"/><line x1="24" x2="34" y1="144.5" y2="144.5"/><line x1="24" x2="34" y1="160.5" y2="160.5"/><line x1="24" x2="34" y1="176.5" y2="176.5"/><line x1="24" x2="34" y1="192.5" y2="192.5"/><line x1="24" x2="34" y1="208.5" y2="208.5"/><line x1="24" x2="34" y1="224.5" y2="224.5"/><line x1="24" x2="34" y1="240.5" y2="240.5"/><line x1="24" x2="34" y1="256.5" y2="256.5"/><line x1="24" x2="34" y1="272.5" y2="272.5"/><line x1="24" x2="34" y1="288.5" y2="288.5"/><line x1="24" x2="34" y1="304.5" y2="304.5"/><line x1="24" x2="34" y1="320.5" y2="320.5"/><line x1="24" x2="34" y1="336.5" y2="336.5"/><line x1="409" x2="419" y1="323.5" y2="323.5"/><line x1="409" x2="419" y1="294.5" y2="294.5"/><line x1="409" x2="419" y1="265.5" y2="265.5"/><line x1="409" x2="419" y1="236.5" y2="236.5"/><line x1="409" x2="419" y1="207.5" y2="207.5"/><line x1="409" x2="419" y1="178.5" y2="178.5"/><line x1="409" x2="419" y1="149.5" y2="149.5"/><line x1="409" x2="419" y1="120.5" y2="120.5"/><line x1="409" x2="419" y1="90.5" y2="90.5"/><line x1="409" x2="419" y1="61.5" y2="61.5"/><line x1="67.5" x2="67.5" y1="353" y2="357"/><line x1="455.5" x2="455.5" y1="353" y2="357"/><line x1="100.5" x2="100.5" y1="353" y2="357"/><line x1="491.5" x2="491.5" y1="353" y2="357"/><line x1="132.5" x2="132.5" y1="353" y2="357"/><line x1="528.5" x2="528.5" y1="353" y2="357"/><line x1="165.5" x2="165.5" y1="353" y2="357"/><line x1="564.5" x2="564.5" y1="353" y2="357"/><line x1="198.5" x2="198.5" y1="353" y2="357"/><line x1="600.5" x2="600.5" y1="353" y2="357"/><line x1="231.5" x2="231.5" y1="353" y2="357"/><line x1="636.5" x2="636.5" y1="353" y2="357"/><line x1="264.5" x2="264.5" y1="353" y2="357"/><line x1="672.5" x2="672.5" y1="353" y2="357"/><line x1="296.5" x2="296.5" y1="353" y2="357"/><line x1="709.5" x2="709.5" y1="353" y2="357"/><line x1="329.5" x2="329.5" y1="353" y2="357"/><line x1="745.5" x2="745.5" y1="353" y2="357"/></g></svg>
<div class="div"></div>
<div class="pill" style="left:5px;width:67px"><i class="dot" style="background:#b4dc00"></i><span>Vitesse</span></div>
<div class="pill" style="left:387px;width:144px"><i class="dot" style="background:#e0302a"></i><span>Fréquence cardiaque</span></div>
<div class="yl" style="left:0;width:21px;top:43px">4,9</div><div class="yl" style="left:0;width:21px;top:59px">4,8</div><div class="yl" style="left:0;width:21px;top:75px">4,7</div><div class="yl" style="left:0;width:21px;top:91px">4,6</div><div class="yl" style="left:0;width:21px;top:107px">4,5</div><div class="yl" style="left:0;width:21px;top:123px">4,4</div><div class="yl" style="left:0;width:21px;top:139px">4,3</div><div class="yl" style="left:0;width:21px;top:155px">4,2</div><div class="yl" style="left:0;width:21px;top:171px">4,1</div><div class="yl" style="left:0;width:21px;top:187px">4,0</div><div class="yl" style="left:0;width:21px;top:203px">3,9</div><div class="yl" style="left:0;width:21px;top:219px">3,8</div><div class="yl" style="left:0;width:21px;top:235px">3,7</div><div class="yl" style="left:0;width:21px;top:251px">3,6</div><div class="yl" style="left:0;width:21px;top:267px">3,5</div><div class="yl" style="left:0;width:21px;top:283px">3,4</div><div class="yl" style="left:0;width:21px;top:299px">3,3</div><div class="yl" style="left:0;width:21px;top:315px">3,2</div><div class="yl" style="left:0;width:21px;top:331px">3,1</div><div class="yl" style="left:0;width:21px;top:347px">3,0</div><div class="yl" style="left:385px;width:21px;top:347px">110</div><div class="yl" style="left:385px;width:21px;top:318px">115</div><div class="yl" style="left:385px;width:21px;top:289px">120</div><div class="yl" style="left:385px;width:21px;top:260px">125</div><div class="yl" style="left:385px;width:21px;top:231px">130</div><div class="yl" style="left:385px;width:21px;top:202px">135</div><div class="yl" style="left:385px;width:21px;top:173px">140</div><div class="yl" style="left:385px;width:21px;top:144px">145</div><div class="yl" style="left:385px;width:21px;top:115px">150</div><div class="yl" style="left:385px;width:21px;top:85px">155</div><div class="yl" style="left:385px;width:21px;top:56px">160</div><div class="xl" style="left:19.5px;top:360px">0,0</div><div class="xl" style="left:404.5px;top:360px">0,0</div><div class="xl" style="left:52.3px;top:360px">0,1</div><div class="xl" style="left:440.7px;top:360px">0,1</div><div class="xl" style="left:85.1px;top:360px">0,1</div><div class="xl" style="left:476.9px;top:360px">0,1</div><div class="xl" style="left:117.9px;top:360px">0,2</div><div class="xl" style="left:513.1px;top:360px">0,2</div><div class="xl" style="left:150.7px;top:360px">0,2</div><div class="xl" style="left:549.3px;top:360px">0,2</div><div class="xl" style="left:183.5px;top:360px">0,2</div><div class="xl" style="left:585.5px;top:360px">0,2</div><div class="xl" style="left:216.3px;top:360px">0,3</div><div class="xl" style="left:621.7px;top:360px">0,3</div><div class="xl" style="left:249.1px;top:360px">0,4</div><div class="xl" style="left:657.9px;top:360px">0,4</div><div class="xl" style="left:281.9px;top:360px">0,4</div><div class="xl" style="left:694.1px;top:360px">0,4</div><div class="xl" style="left:314.7px;top:360px">0,4</div><div class="xl" style="left:730.3px;top:360px">0,4</div><div class="xl" style="letter-spacing:0;left:89.9px;top:376.3px">Set 1</div><div class="xl" style="letter-spacing:0;left:181.8px;top:376.3px">Set 1</div><div class="xl" style="letter-spacing:0;left:273.7px;top:376.3px">Set 1</div><div class="xl" style="letter-spacing:0;left:491.7px;top:376.3px">Set 1</div><div class="xl" style="letter-spacing:0;left:583.6px;top:376.3px">Set 1</div><div class="xl" style="letter-spacing:0;left:675.5px;top:376.3px">Set 1</div>
</body></html>
